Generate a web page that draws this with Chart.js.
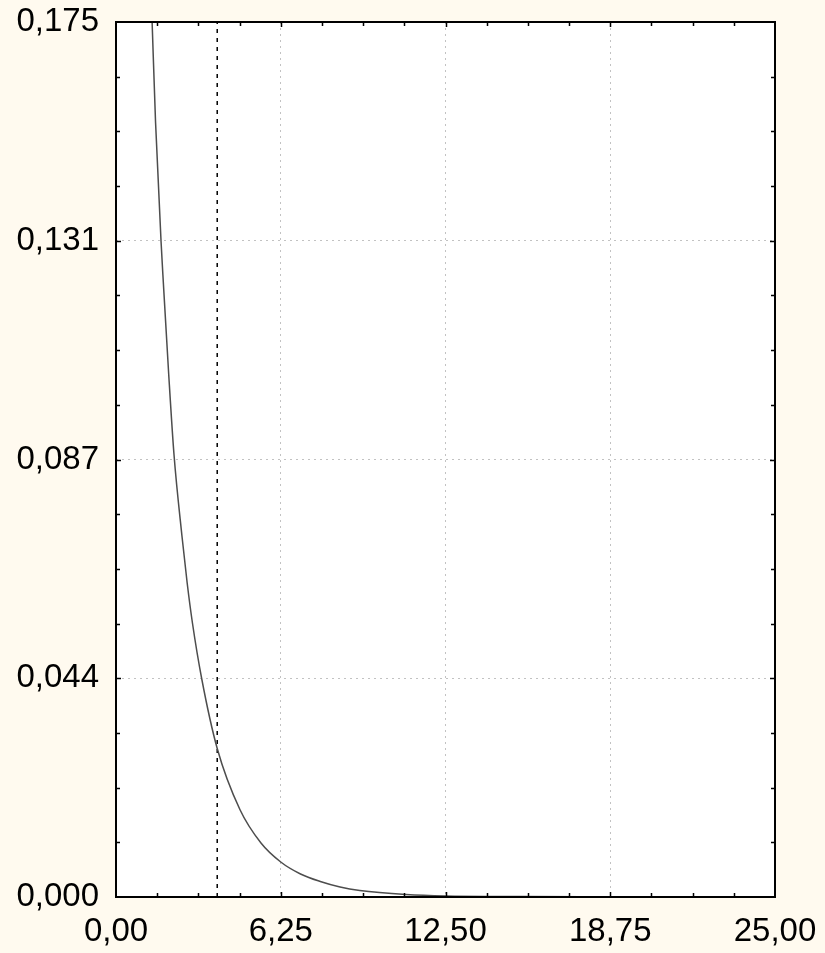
<!DOCTYPE html>
<html>
<head>
<meta charset="utf-8">
<script src="https://cdn.jsdelivr.net/npm/chart.js@4/dist/chart.umd.min.js"></script>
<style>
  body { margin: 0; background: #fffaef; }
  canvas { display: block; }
</style>
</head>
<body>
<canvas id="myChart" width="825" height="953"></canvas>
<script>
// density curve, read point by point
var curveX = [1.37, 1.5, 1.71, 1.8, 2.0, 2.2, 2.5, 2.7, 2.9, 3.25, 3.84, 4.7, 5.5, 6.25, 7.0, 7.75, 8.5, 9.25, 11.0, 12.5, 15.0, 20.0, 25.0];
var curveY = [0.175, 0.155, 0.131, 0.1225, 0.1045, 0.0885, 0.0723, 0.0628, 0.0548, 0.0437, 0.0297, 0.0175, 0.0108, 0.0070, 0.0046, 0.0031, 0.0020, 0.0013, 0.0005, 0.0002, 0.0001, 0.0, 0.0];

// critical value marker
var markerX = [3.84, 3.84];
var markerY = [0, 0.175];

var xTicks = [0, 6.25, 12.5, 18.75, 25];
var xTickLabels = ['0,00', '6,25', '12,50', '18,75', '25,00'];
var yTicks = [0, 0.04375, 0.0875, 0.13125, 0.175];
var yTickLabels = ['0,000', '0,044', '0,087', '0,131', '0,175'];

function toPoints(xs, ys){
    var pts = [];
    for(let i=0; i < xs.length; i++){
        pts.push({x: xs[i], y: ys[i]});
    }
    return pts;
}

var tickFont = {family: "'Liberation Sans', Arial, sans-serif", size: 33};

// hide grid lines that sit on the frame
function innerGrid(ctx){
    var v = ctx.tick ? ctx.tick.value : null;
    if(v === null) return 'rgba(0,0,0,0)';
    var s = ctx.scale;
    if(v === s.min || v === s.max) return 'rgba(0,0,0,0)';
    return '#c2c2c2';
}

// white plot area, black frame and inward ticks on all sides
var framePlugin = {
    id: 'frame',
    beforeDraw: function(chart){
        var c = chart.ctx, a = chart.chartArea;
        c.save();
        c.fillStyle = '#fffaef';
        c.fillRect(0, 0, chart.width, chart.height);
        c.fillStyle = '#ffffff';
        c.fillRect(a.left, a.top, a.right - a.left, a.bottom - a.top);
        c.restore();
    },
    afterDatasetsDraw: function(chart){
        var c = chart.ctx, a = chart.chartArea;
        var xs = chart.scales.x, ys = chart.scales.y;
        c.save();
        c.strokeStyle = '#000';
        c.lineWidth = 1.5;
        c.beginPath();
        for(let i=1; i < 16; i++){
            var len = (i % 4 === 0) ? 5 : 4;
            var px = Math.round(xs.getPixelForValue(i * 25 / 16)) + 0.5;
            c.moveTo(px, a.bottom); c.lineTo(px, a.bottom - len);
            c.moveTo(px, a.top); c.lineTo(px, a.top + len);
            var py = Math.round(ys.getPixelForValue(i * 0.175 / 16)) + 0.5;
            c.moveTo(a.left, py); c.lineTo(a.left + len, py);
            c.moveTo(a.right, py); c.lineTo(a.right - len, py);
        }
        c.stroke();
        c.lineWidth = 2;
        c.strokeRect(a.left, a.top, a.right - a.left, a.bottom - a.top);
        c.restore();
    }
};

var ctx = document.getElementById('myChart').getContext('2d');
var myChart = new Chart(ctx, {
    type: 'line',
    data: {
        datasets: [{
            data: toPoints(curveX, curveY),
            borderColor: '#4d4d4d',
            borderWidth: 1.5,
            pointRadius: 0,
            fill: false,
            cubicInterpolationMode: 'monotone'
        },
        {
            data: toPoints(markerX, markerY),
            borderColor: '#000000',
            borderWidth: 1.5,
            borderDash: [4, 5],
            pointRadius: 0,
            fill: false
        }]
    },
    options: {
        responsive: false,
        animation: false,
        layout: {padding: {top: 22, right: 50, left: 0, bottom: 0}},
        plugins: {
            legend: {display: false},
            tooltip: {enabled: false}
        },
        scales: {
            x: {
                type: 'linear',
                min: 0,
                max: 25,
                afterBuildTicks: function(scale){
                    scale.ticks = xTicks.map(v => ({value: v}));
                },
                afterFit: function(scale){
                    scale.height = 56;
                    scale.paddingLeft = 0;
                    scale.paddingRight = 0;
                },
                grid: {drawTicks: false, color: innerGrid, lineWidth: 1},
                border: {display: false, dash: [2, 4]},
                ticks: {
                    padding: 15,
                    color: '#000',
                    font: tickFont,
                    maxRotation: 0,
                    callback: function(value, index){ return xTickLabels[index]; }
                }
            },
            y: {
                min: 0,
                max: 0.175,
                afterBuildTicks: function(scale){
                    scale.ticks = yTicks.map(v => ({value: v}));
                },
                afterFit: function(scale){
                    scale.width = 116;
                    scale.paddingTop = 0;
                    scale.paddingBottom = 0;
                },
                grid: {drawTicks: false, color: innerGrid, lineWidth: 1},
                border: {display: false, dash: [2, 4]},
                ticks: {
                    padding: 17,
                    color: '#000',
                    font: tickFont,
                    callback: function(value, index){ return yTickLabels[index]; }
                }
            }
        }
    },
    plugins: [framePlugin]
});
</script>
</body>
</html>
